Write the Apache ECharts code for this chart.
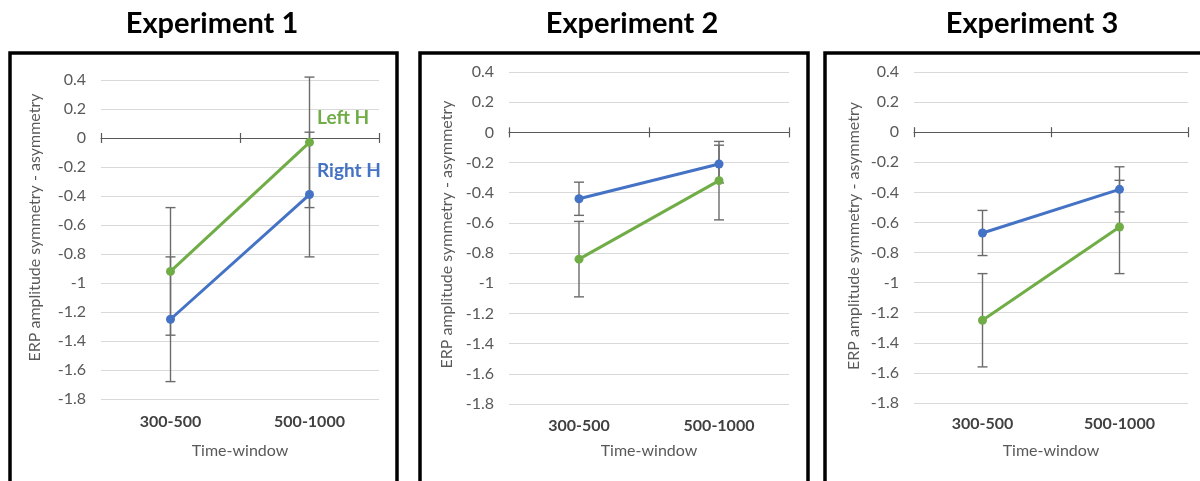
<!DOCTYPE html>
<html>
<head>
<meta charset="utf-8">
<script src="https://cdn.jsdelivr.net/npm/echarts@6/dist/echarts.min.js"></script>
<style>
  html, body { margin: 0; padding: 0; background: #ffffff; }
  #chart { width: 1200px; height: 481px; }
</style>
</head>
<body>
<div id="chart"></div>
<script>
// Categories and axis range
const timeWindows = ['300-500', '500-1000'];
const panelTitles = ['Experiment 1', 'Experiment 2', 'Experiment 3'];
const seriesNames = ['Left H', 'Right H'];
const yMin = -1.8;
const yMax = 0.4;
const yStep = 0.2;

// Mean ERP amplitude difference and error bar half-widths per experiment
const exp1Left = [-0.92, -0.03];
const exp1LeftErr = [0.44, 0.45];
const exp1Right = [-1.25, -0.39];
const exp1RightErr = [0.43, 0.43];

const exp2Left = [-0.84, -0.32];
const exp2LeftErr = [0.25, 0.26];
const exp2Right = [-0.44, -0.21];
const exp2RightErr = [0.11, 0.125];

const exp3Left = [-1.25, -0.63];
const exp3LeftErr = [0.31, 0.31];
const exp3Right = [-0.67, -0.38];
const exp3RightErr = [0.15, 0.15];

const panels = [
  { left: exp1Left, leftErr: exp1LeftErr, right: exp1Right, rightErr: exp1RightErr, labelled: true },
  { left: exp2Left, leftErr: exp2LeftErr, right: exp2Right, rightErr: exp2RightErr, labelled: false },
  { left: exp3Left, leftErr: exp3LeftErr, right: exp3Right, rightErr: exp3RightErr, labelled: false }
];

const GREEN = '#70AD47';
const BLUE = '#4472C4';
const AXIS_GREY = '#595959';
const FONT = 'Lato, "Open Sans", sans-serif';

// Plot area and frame of each panel
const grids = [
  { left: 101, top: 80, width: 278, height: 319 },
  { left: 509, top: 72, width: 280, height: 332 },
  { left: 914, top: 72, width: 274, height: 331 }
];
const frames = [
  { x: 10, w: 387 },
  { x: 420, w: 388 },
  { x: 825, w: 400 }
];
const titleCenters = [207, 627, 1027];
const yNameGaps = [58, 54, 52];
const yNameShift = [24, 7, 3];
const xNameGaps = [44, 39, 40];
const xLabelMargins = [15, 14, 13];

function errorBars(means, errs) {
  return means.map((m, i) => [i, m - errs[i], m + errs[i]]);
}

function renderErrorBar(params, api) {
  const lo = api.coord([api.value(0), api.value(1)]);
  const hi = api.coord([api.value(0), api.value(2)]);
  const cap = 5;
  const style = { stroke: '#6b6b6b', lineWidth: 1.4 };
  return {
    type: 'group',
    children: [
      { type: 'line', shape: { x1: lo[0], y1: lo[1], x2: hi[0], y2: hi[1] }, style },
      { type: 'line', shape: { x1: lo[0] - cap, y1: lo[1], x2: lo[0] + cap, y2: lo[1] }, style },
      { type: 'line', shape: { x1: hi[0] - cap, y1: hi[1], x2: hi[0] + cap, y2: hi[1] }, style }
    ]
  };
}

const option = {
  backgroundColor: '#ffffff',
  animation: false,
  title: panelTitles.map((t, p) => ({
    text: t,
    left: titleCenters[p],
    top: 4,
    textAlign: 'center',
    textStyle: { fontFamily: FONT, fontWeight: 'bold', fontSize: 29, color: '#000000' }
  })),
  graphic: frames.map(f => ({
    type: 'rect',
    shape: { x: f.x, y: 53, width: f.w, height: 460 },
    style: { fill: null, stroke: '#000000', lineWidth: 3.5 },
    silent: true
  })),
  grid: grids.map(g => Object.assign({ containLabel: false }, g)),
  xAxis: [],
  yAxis: [],
  series: []
};

panels.forEach((panel, p) => {
  // Category labels and axis name along the bottom of the plot
  option.xAxis.push({
    type: 'category',
    gridIndex: p,
    data: timeWindows,
    boundaryGap: true,
    position: 'bottom',
    axisLine: { show: false, onZero: false },
    axisTick: { show: false },
    axisLabel: {
      margin: xLabelMargins[p],
      fontFamily: FONT, fontWeight: 'bold', fontSize: 16, color: '#404040'
    },
    name: 'Time-window',
    nameLocation: 'middle',
    nameGap: xNameGaps[p],
    nameTextStyle: { fontFamily: FONT, fontSize: 16, color: AXIS_GREY }
  });
  // Axis line through zero, ticks pointing down
  option.xAxis.push({
    type: 'category',
    gridIndex: p,
    data: timeWindows,
    boundaryGap: true,
    axisLine: { show: true, onZero: true, onZeroAxisIndex: p, lineStyle: { color: AXIS_GREY, width: 1.2 } },
    axisTick: { show: true, inside: false, length: 5, lineStyle: { color: AXIS_GREY, width: 1.2 } },
    axisLabel: { show: false }
  });
  // Same line, ticks pointing up, so the ticks cross the axis
  option.xAxis.push({
    type: 'category',
    gridIndex: p,
    data: timeWindows,
    boundaryGap: true,
    axisLine: { show: false, onZero: true, onZeroAxisIndex: p },
    axisTick: { show: true, inside: true, length: 5, lineStyle: { color: AXIS_GREY, width: 1.2 } },
    axisLabel: { show: false }
  });

  option.yAxis.push({
    type: 'value',
    gridIndex: p,
    min: yMin,
    max: yMax,
    interval: yStep,
    axisLine: { show: false },
    axisTick: { show: false },
    splitLine: { show: true, lineStyle: { color: '#d9d9d9', width: 1 } },
    axisLabel: { margin: 15, fontFamily: FONT, fontSize: 16, color: AXIS_GREY },
    name: 'ERP amplitude symmetry - asymmetry',
    nameLocation: 'middle',
    nameGap: yNameGaps[p],
    nameTextStyle: {
      fontFamily: FONT, fontSize: 16, color: AXIS_GREY,
      padding: [0, 0, 0, yNameShift[p]]
    }
  });

  const xIdx = p * 3;
  [
    { name: seriesNames[0], data: panel.left, err: panel.leftErr, color: GREEN },
    { name: seriesNames[1], data: panel.right, err: panel.rightErr, color: BLUE }
  ].forEach(s => {
    option.series.push({
      type: 'custom',
      name: s.name + ' error',
      xAxisIndex: xIdx,
      yAxisIndex: p,
      z: 2,
      renderItem: renderErrorBar,
      data: errorBars(s.data, s.err),
      silent: true
    });
    const lineData = s.data.map((v, i) => {
      if (panel.labelled && i === s.data.length - 1) {
        return {
          value: v,
          label: {
            show: true,
            position: 'right',
            distance: 3,
            offset: [0, -24],
            formatter: s.name,
            fontFamily: FONT, fontWeight: 'bold', fontSize: 19, color: s.color
          }
        };
      }
      return v;
    });
    option.series.push({
      type: 'line',
      name: s.name,
      xAxisIndex: xIdx,
      yAxisIndex: p,
      z: 3,
      data: lineData,
      symbol: 'circle',
      symbolSize: 9,
      showSymbol: true,
      lineStyle: { color: s.color, width: 3 },
      itemStyle: { color: s.color },
      label: { show: false }
    });
  });
});

const chart = echarts.init(document.getElementById('chart'), null, { renderer: 'canvas' });
chart.setOption(option);
</script>
</body>
</html>
